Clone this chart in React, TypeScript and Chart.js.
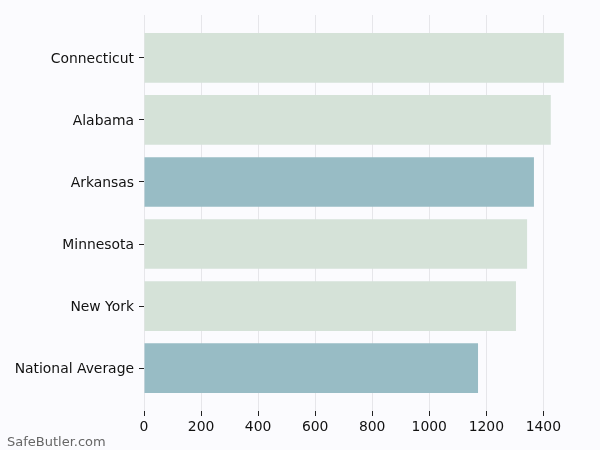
import React, { useEffect, useRef } from "react";
import Chart from "chart.js/auto";

const categories = ["Connecticut", "Alabama", "Arkansas", "Minnesota", "New York", "National Average"];
const premiums = [1472, 1426, 1367, 1343, 1304, 1171];
const barColors = ["#d5e2d8", "#d5e2d8", "#98bcc5", "#d5e2d8", "#d5e2d8", "#98bcc5"];
const xTicks = [0, 200, 400, 600, 800, 1000, 1200, 1400];

const FONT = "'DejaVu Sans', sans-serif";

const App: React.FC = () => {
  const chartRef = useRef<HTMLCanvasElement | null>(null);
  const chartInstance = useRef<Chart | null>(null);

  useEffect(() => {
    document.body.style.margin = "0";
    if (!chartRef.current) return;
    const ctx = chartRef.current.getContext("2d");
    if (!ctx) return;

    const background = {
      id: "background",
      beforeDraw: (chart: any) => {
        const c = chart.ctx;
        c.save();
        c.fillStyle = "#fbfbfe";
        c.fillRect(0, 0, chart.width, chart.height);
        c.restore();
      },
    };

    const watermark = {
      id: "watermark",
      afterDraw: (chart: any) => {
        const c = chart.ctx;
        c.save();
        c.font = "13px " + FONT;
        c.fillStyle = "#666666";
        c.textAlign = "left";
        c.textBaseline = "alphabetic";
        c.fillText("SafeButler.com", 7, 446);
        c.restore();
      },
    };

    chartInstance.current = new Chart(ctx, {
      type: "bar",
      data: {
        datasets: [
          {
            data: premiums.map((v, i) => ({ x: v, y: i })) as any,
            backgroundColor: barColors,
            borderWidth: 0,
            barPercentage: 0.8,
            categoryPercentage: 1,
          },
        ],
      },
      options: {
        indexAxis: "y",
        animation: false,
        responsive: false,
        layout: { padding: { top: 15, right: 15, left: 0, bottom: 0 } },
        plugins: {
          legend: { display: false },
          tooltip: { enabled: false },
        },
        scales: {
          x: {
            type: "linear",
            min: 0,
            max: 1546,
            afterBuildTicks: (scale: any) => {
              scale.ticks = xTicks.map((v) => ({ value: v }));
            },
            afterFit: (scale: any) => {
              scale.height = 39;
            },
            border: { display: false },
            grid: {
              color: "#e6e6ea",
              tickColor: "#222222",
              tickLength: 5,
              lineWidth: 1,
            },
            ticks: {
              color: "#111111",
              font: { family: FONT, size: 13.9 },
              padding: 3,
              maxRotation: 0,
              callback: (v: any) => String(v),
            },
          },
          y: {
            type: "linear",
            reverse: true,
            offset: false,
            min: -0.69,
            max: 5.69,
            afterBuildTicks: (scale: any) => {
              scale.ticks = categories.map((_, i) => ({ value: i }));
            },
            afterFit: (scale: any) => {
              scale.width = 144;
            },
            border: { display: false },
            grid: {
              offset: false,
              drawOnChartArea: false,
              tickColor: "#222222",
              tickLength: 5,
            },
            ticks: {
              color: "#111111",
              font: { family: FONT, size: 13.9 },
              padding: 5,
              labelOffset: 1.5,
              callback: (v: any) => categories[v as number],
            },
          },
        },
      },
      plugins: [background, watermark],
    });

    return () => {
      if (chartInstance.current) {
        chartInstance.current.destroy();
        chartInstance.current = null;
      }
    };
  }, []);

  return (
    <div style={{ width: 600, height: 450 }}>
      <canvas ref={chartRef} width={600} height={450} style={{ width: 600, height: 450 }} />
    </div>
  );
};

export default App;
